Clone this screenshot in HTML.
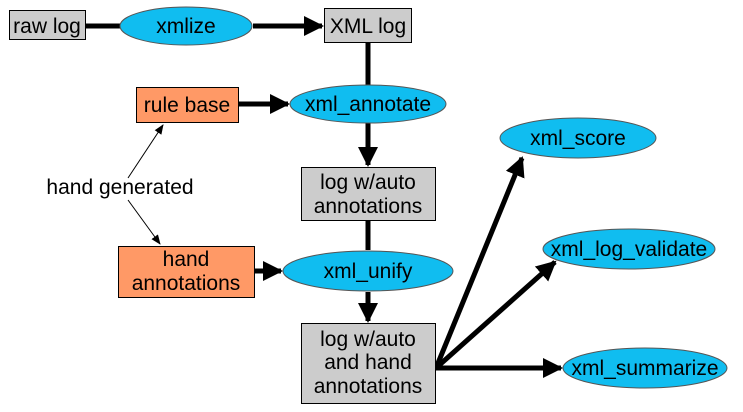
<!DOCTYPE html>
<html><head><style>
body{margin:0;background:#fff;}
svg text{font-family:"Liberation Sans",Arial,sans-serif;font-size:21px;fill:#000;text-anchor:middle;}
</style></head><body>
<svg width="743" height="407" viewBox="0 0 743 407" xmlns="http://www.w3.org/2000/svg">
<defs>
<marker id="a" markerWidth="4" markerHeight="4" refX="3.6" refY="2" orient="auto" markerUnits="strokeWidth"><path d="M0,0 L4,2 L0,4 Z" fill="#000"/></marker>
<marker id="t" markerWidth="10" markerHeight="10" refX="9" refY="5" orient="auto" markerUnits="userSpaceOnUse"><path d="M0,1 L10,5 L0,9 Z" fill="#000"/></marker>
</defs>
<g stroke="#000" stroke-width="5" fill="none">
<line x1="85" y1="26" x2="120" y2="26"/>
<line x1="253" y1="26" x2="322" y2="26" marker-end="url(#a)"/>
<line x1="368" y1="42" x2="368" y2="86"/>
<line x1="238" y1="104" x2="288" y2="104" marker-end="url(#a)"/>
<line x1="368" y1="122" x2="368" y2="165" marker-end="url(#a)"/>
<line x1="368" y1="220" x2="368" y2="250"/>
<line x1="254" y1="271" x2="281" y2="271" marker-end="url(#a)"/>
<line x1="368" y1="292" x2="368" y2="321" marker-end="url(#a)"/>
<line x1="436" y1="368" x2="522" y2="158" marker-end="url(#a)"/>
<line x1="436" y1="368" x2="555" y2="262" marker-end="url(#a)"/>
<line x1="436" y1="368" x2="561" y2="368" marker-end="url(#a)"/>
</g>
<g stroke="#000" stroke-width="1">
<line x1="128" y1="178" x2="163" y2="125" marker-end="url(#t)"/>
<line x1="128" y1="200" x2="160" y2="244" marker-end="url(#t)"/>
</g>
<g stroke="#000" stroke-width="1">
<rect x="9.5" y="10.5" width="76" height="29" fill="#cccccc"/>
<rect x="324.5" y="8.5" width="87" height="34" fill="#cccccc"/>
<rect x="136.5" y="87.5" width="102" height="35" fill="#ff9966"/>
<rect x="301.5" y="167.5" width="134" height="53" fill="#cccccc"/>
<rect x="118.5" y="246.5" width="136" height="51" fill="#ff9966"/>
<rect x="301.5" y="323.5" width="134" height="80" fill="#cccccc"/>
<g fill="#10bdf0" stroke="#555">
<ellipse cx="186" cy="26" rx="66" ry="19"/>
<ellipse cx="368" cy="104" rx="78" ry="19"/>
<ellipse cx="368" cy="271" rx="85" ry="20"/>
<ellipse cx="578" cy="138" rx="78" ry="20"/>
<ellipse cx="629" cy="249" rx="86" ry="20"/>
<ellipse cx="645" cy="368" rx="82" ry="20"/>
</g>
</g>
<text x="47" y="33">raw log</text>
<text x="186" y="33">xmlize</text>
<text x="368" y="33">XML log</text>
<text x="187" y="112">rule base</text>
<text x="368" y="111">xml_annotate</text>
<text x="368" y="189">log w/auto</text>
<text x="368" y="213">annotations</text>
<text x="120" y="194">hand generated</text>
<text x="186" y="266">hand</text>
<text x="186" y="290">annotations</text>
<text x="368" y="278">xml_unify</text>
<text x="368" y="346">log w/auto</text>
<text x="368" y="369">and hand</text>
<text x="368" y="393">annotations</text>
<text x="578" y="145">xml_score</text>
<text x="629" y="256">xml_log_validate</text>
<text x="645" y="375">xml_summarize</text>
</svg>
</body></html>
